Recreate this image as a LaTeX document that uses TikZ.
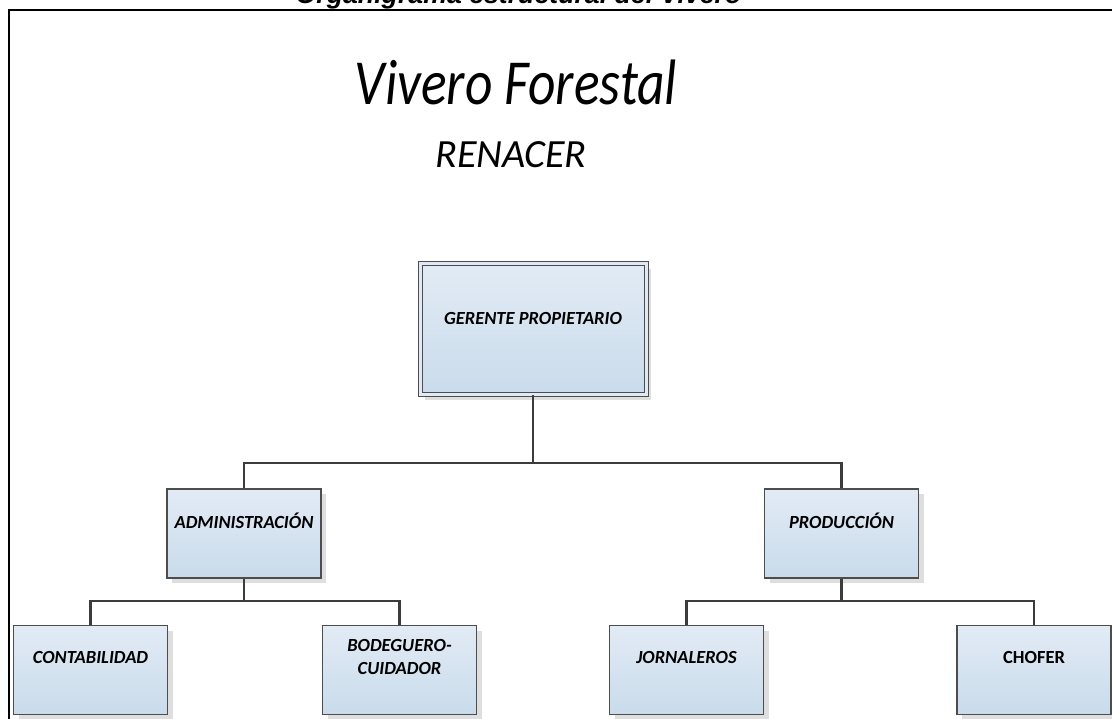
\documentclass[tikz,border=0pt]{standalone}
\usepackage{fontspec}
\setmainfont{Carlito}
\newfontfamily\arialfont{Liberation Sans}
\usetikzlibrary{shadows}

\definecolor{borde}{HTML}{4D4D4D}
\definecolor{linea}{HTML}{3C3C3C}
\definecolor{cajaarriba}{HTML}{E2EBF5}
\definecolor{cajaabajo}{HTML}{C9DBEB}
\definecolor{sombra}{HTML}{DEDEDE}

\tikzset{caja/.style={draw=borde, line width=1.2pt,
                      top color=cajaarriba, bottom color=cajaabajo,
                      minimum width=154pt, minimum height=89pt,
                      drop shadow={shadow xshift=5pt, shadow yshift=-5pt,
                                   fill=sombra, opacity=1}},
         rotulo/.style={font=\fontsize{18.5}{22.5}\selectfont\bfseries\itshape,
                        align=center, yshift=13pt},
         conector/.style={draw=linea, line width=2.5pt}}

\begin{document}
\begin{tikzpicture}[x=1pt, y=-1pt]
\useasboundingbox (0,0) rectangle (1112,719);

% titulo
\node[anchor=base, font=\arialfont\fontsize{26.7}{30}\selectfont\bfseries\itshape]
  (titulo) at (518.5,4) {Organigrama estructural del Vivero};
\draw[line width=2pt] (9,719) -- (9,10) -- (1116,10);

\node[anchor=base, font=\fontsize{53.5}{60}\selectfont\itshape]
  (vivero) at (516,105) {\scalebox{1}[1.2]{Vivero Forestal}};
\node[anchor=base, font=\fontsize{40}{46}\selectfont\itshape]
  (renacer) at (511,168) {RENACER};

% nivel 0
\node[caja, minimum width=226pt, minimum height=131pt, line width=1pt,
      double=cajaarriba!95!cajaabajo, double distance=3pt,
      label={[rotulo, yshift=-2pt]center:GERENTE PROPIETARIO}]
  (ger) at (533,329.5) {};

% nivel 1
\node[caja, label={[rotulo]center:ADMINISTRACIÓN}] (adm) at (244,533.5) {};
\node[caja, label={[rotulo]center:PRODUCCIÓN}] (prod) at (841.5,533.5) {};

% nivel 2
\node[caja, label={[rotulo]center:CONTABILIDAD}] (cont) at (90.5,670) {};
\node[caja, label={[rotulo]center:BODEGUERO-\\CUIDADOR}] (bod) at (399.5,670) {};
\node[caja, label={[rotulo]center:JORNALEROS}] (jorn) at (686.5,670) {};
\node[caja, label={[rotulo, font=\fontsize{18.5}{22.5}\selectfont\bfseries]center:CHOFER}]
  (chofer) at (1034,670) {};

\coordinate (j0) at (533,463);
\coordinate (j1) at (244,601);
\coordinate (j2) at (841.5,601);

\draw[conector] (ger.south) -- (j0) -| (adm.north);
\draw[conector] (j0) -| (prod.north);
\draw[conector] (adm.south) -- (j1) -| (cont.north);
\draw[conector] (j1) -| (bod.north);
\draw[conector] (prod.south) -- (j2) -| (jorn.north);
\draw[conector] (j2) -| (chofer.north);

\end{tikzpicture}
\end{document}
